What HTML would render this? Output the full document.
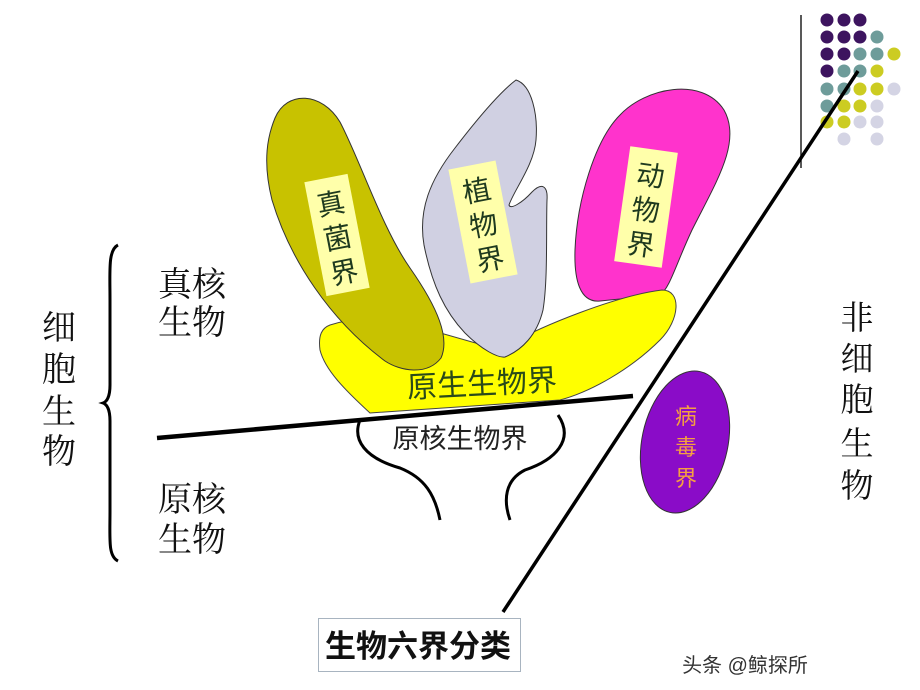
<!DOCTYPE html>
<html><head><meta charset="utf-8"><style>
html,body{margin:0;padding:0;background:#fff;}
svg{display:block;}
text{font-family:"Liberation Sans","Noto Sans CJK SC",sans-serif;}
.s{font-family:"Liberation Serif","Noto Serif CJK SC",serif;}
</style></head><body>
<svg width="920" height="690" viewBox="0 0 920 690" xmlns="http://www.w3.org/2000/svg">
<rect width="920" height="690" fill="#fff"/>
<g>
<line x1="801" y1="15" x2="801" y2="168" stroke="#222" stroke-width="1.5"/>
<g fill="#3d145f">
<circle cx="827" cy="20" r="6.5"/><circle cx="844" cy="20" r="6.5"/><circle cx="860" cy="20" r="6.5"/>
<circle cx="827" cy="37" r="6.5"/><circle cx="844" cy="37" r="6.5"/><circle cx="860" cy="37" r="6.5"/>
<circle cx="827" cy="54" r="6.5"/><circle cx="844" cy="54" r="6.5"/>
<circle cx="827" cy="71" r="6.5"/>
</g>
<g fill="#6e9c9a">
<circle cx="877" cy="37" r="6.5"/>
<circle cx="860" cy="54" r="6.5"/><circle cx="877" cy="54" r="6.5"/>
<circle cx="844" cy="71" r="6.5"/><circle cx="860" cy="71" r="6.5"/>
<circle cx="827" cy="89" r="6.5"/><circle cx="844" cy="89" r="6.5"/>
<circle cx="827" cy="106" r="6.5"/>
</g>
<g fill="#cccc22">
<circle cx="894" cy="54" r="6.5"/>
<circle cx="877" cy="71" r="6.5"/>
<circle cx="860" cy="89" r="6.5"/><circle cx="877" cy="89" r="6.5"/>
<circle cx="844" cy="106" r="6.5"/><circle cx="860" cy="106" r="6.5"/>
<circle cx="827" cy="122" r="6.5"/><circle cx="844" cy="122" r="6.5"/>
</g>
<g fill="#d4d4e4">
<circle cx="894" cy="89" r="6.5"/>
<circle cx="877" cy="106" r="6.5"/>
<circle cx="860" cy="122" r="6.5"/><circle cx="877" cy="122" r="6.5"/>
<circle cx="844" cy="139" r="6.5"/><circle cx="877" cy="139" r="6.5"/>
</g>
</g>
<line x1="858" y1="71" x2="503" y2="612" stroke="#000" stroke-width="3.5"/>
<path d="M620,115 C645,88 702,76 724,110 C742,142 716,182 692,230 C676,264 670,288 660,295 L600,301 C580,303 574,280 575,250 C577,200 595,140 620,115 Z" fill="#ff33cc" stroke="#333" stroke-width="1"/>
<path d="M330,325 C360,315 400,320 430,330 L500,350 C540,325 620,295 662,290 C682,290 680,320 660,340 C630,370 590,392 560,400 L370,413 C345,390 325,370 320,350 C318,335 322,328 330,325 Z" fill="#ffff00" stroke="#444" stroke-width="1"/>
<path d="M275,118 C287,90 322,92 340,122 C360,160 382,228 410,268 C438,308 450,338 441,358 C427,376 400,371 385,361 C330,320 290,260 272,200 C262,160 268,135 275,118 Z" fill="#c8c200" stroke="#333" stroke-width="1"/>
<path d="M516,80 C500,92 478,118 455,148 C430,180 418,210 424,245 C432,285 445,312 465,333 C482,350 498,358 505,357 C522,350 537,335 543,310 C548,280 546,230 547,200 C548,186 542,182 532,192 C522,203 510,210 509,205 C514,190 534,165 536,140 C538,115 532,85 516,80 Z" fill="#d0d0e2" stroke="#333" stroke-width="1"/>
<g transform="translate(337,235) rotate(-11)">
<rect x="-22" y="-58" width="44" height="116" fill="#ffffaa"/>
<text x="0" y="-22" font-size="28" text-anchor="middle" fill="#1f3a1f">真</text>
<text x="0" y="13" font-size="28" text-anchor="middle" fill="#1f3a1f">菌</text>
<text x="0" y="48" font-size="28" text-anchor="middle" fill="#1f3a1f">界</text>
</g>
<g transform="translate(483,222) rotate(-11)">
<rect x="-24" y="-58" width="48" height="116" fill="#ffffaa"/>
<text x="0" y="-22" font-size="28" text-anchor="middle" fill="#1f3a1f">植</text>
<text x="0" y="13" font-size="28" text-anchor="middle" fill="#1f3a1f">物</text>
<text x="0" y="48" font-size="28" text-anchor="middle" fill="#1f3a1f">界</text>
</g>
<g transform="translate(646,207) rotate(8)">
<rect x="-24" y="-58" width="48" height="116" fill="#ffffaa"/>
<text x="0" y="-22" font-size="28" text-anchor="middle" fill="#1f3a1f">动</text>
<text x="0" y="13" font-size="28" text-anchor="middle" fill="#1f3a1f">物</text>
<text x="0" y="48" font-size="28" text-anchor="middle" fill="#1f3a1f">界</text>
</g>
<text x="482" y="394" font-size="30" text-anchor="middle" fill="#2a4a1a" transform="rotate(-3 482 384)">原生生物界</text>
<path d="M360,420 C352,440 365,458 400,468 C425,478 435,495 440,520" fill="none" stroke="#000" stroke-width="3"/>
<path d="M558,415 C575,440 555,460 525,470 C505,480 503,500 510,520" fill="none" stroke="#000" stroke-width="3"/>
<text x="460" y="448" font-size="27" text-anchor="middle" fill="#222">原核生物界</text>
<line x1="157" y1="438" x2="633" y2="396" stroke="#000" stroke-width="4.5"/>
<ellipse cx="685" cy="442" rx="43" ry="72" transform="rotate(12 685 442)" fill="#8a0cc8" stroke="#333" stroke-width="1"/>
<text x="686" y="424" font-size="22" text-anchor="middle" fill="#f5a040">病</text>
<text x="686" y="455" font-size="22" text-anchor="middle" fill="#f5a040">毒</text>
<text x="686" y="486" font-size="22" text-anchor="middle" fill="#f5a040">界</text>
<path d="M118,245 C108,250 110,270 110,300 L110,385 C110,398 106,402 103,403 C106,404 110,408 110,421 L110,510 C110,540 108,556 118,561" fill="none" stroke="#000" stroke-width="3"/>
<g font-size="34" fill="#111">
<text class="s" x="59" y="339" text-anchor="middle">细</text>
<text class="s" x="59" y="381" text-anchor="middle">胞</text>
<text class="s" x="59" y="423" text-anchor="middle">生</text>
<text class="s" x="59" y="463" text-anchor="middle">物</text>
<text class="s" x="158" y="296">真核</text>
<text class="s" x="158" y="334">生物</text>
<text class="s" x="158" y="511">原核</text>
<text class="s" x="158" y="551">生物</text>
<text class="s" x="857" y="329" text-anchor="middle" font-size="33">非</text>
<text class="s" x="857" y="370" text-anchor="middle" font-size="33">细</text>
<text class="s" x="857" y="411" text-anchor="middle" font-size="33">胞</text>
<text class="s" x="857" y="455" text-anchor="middle" font-size="33">生</text>
<text class="s" x="857" y="497" text-anchor="middle" font-size="33">物</text>
</g>
<rect x="318.5" y="618.5" width="202" height="53" fill="#fff" stroke="#a8b4c0" stroke-width="1"/>
<text x="418" y="657" font-size="31" font-weight="bold" text-anchor="middle" fill="#111">生物六界分类</text>
<text x="745" y="672" font-size="20" text-anchor="middle" fill="#333">头条 @鲸探所</text>
</svg>
</body></html>
